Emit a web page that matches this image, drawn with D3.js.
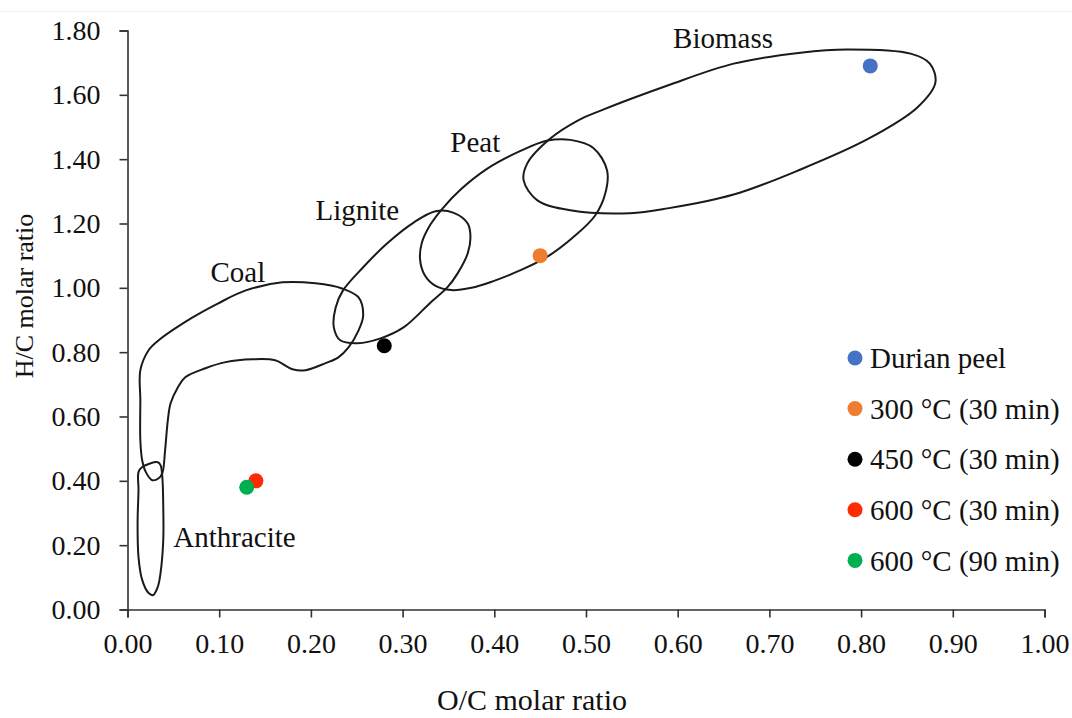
<!DOCTYPE html>
<html>
<head>
<meta charset="utf-8">
<script src="https://cdn.jsdelivr.net/npm/d3@7"></script>
<style>
  html, body { margin: 0; padding: 0; background: #fff; }
  svg { display: block; }
  text { font-family: "Liberation Serif", "Times New Roman", serif; fill: #111; }
</style>
</head>
<body>
<svg id="chart" width="1072" height="718"></svg>
<script>
// Van Krevelen diagram: O/C vs H/C atomic ratios of durian peel and its chars

const xTicks = [0, 0.1, 0.2, 0.3, 0.4, 0.5, 0.6, 0.7, 0.8, 0.9, 1.0];
const yTicks = [0, 0.2, 0.4, 0.6, 0.8, 1.0, 1.2, 1.4, 1.6, 1.8];

// Samples
const sampleNames = ["Durian peel", "300 °C (30 min)", "450 °C (30 min)", "600 °C (30 min)", "600 °C (90 min)"];
const sampleOC = [0.81, 0.45, 0.28, 0.14, 0.13];
const sampleHC = [1.69, 1.10, 0.82, 0.40, 0.38];
const sampleColors = ["#4472C4", "#ED7D31", "#000000", "#FF2A00", "#00B050"];

// Fuel regions, outlines as [O/C, H/C]
const biomassRegion = [
  [0.881, 1.638], [0.875, 1.697], [0.854, 1.728], [0.785, 1.741], [0.734, 1.731],
  [0.661, 1.697], [0.589, 1.629], [0.516, 1.551], [0.491, 1.520], [0.461, 1.464],
  [0.436, 1.387], [0.432, 1.334], [0.447, 1.272], [0.483, 1.241], [0.548, 1.232],
  [0.589, 1.247], [0.661, 1.290], [0.734, 1.368], [0.807, 1.462], [0.861, 1.560]
];
const peatRegion = [
  [0.458, 1.458], [0.483, 1.460], [0.508, 1.435], [0.523, 1.365], [0.521, 1.293],
  [0.510, 1.225], [0.486, 1.157], [0.458, 1.097], [0.428, 1.054], [0.399, 1.021],
  [0.375, 1.000], [0.353, 0.993], [0.336, 1.006], [0.324, 1.040], [0.319, 1.090],
  [0.321, 1.140], [0.330, 1.195], [0.343, 1.245], [0.363, 1.305], [0.392, 1.370],
  [0.428, 1.425]
];
const ligniteRegion = [
  [0.336, 1.238], [0.355, 1.234], [0.371, 1.200], [0.374, 1.157], [0.371, 1.107],
  [0.360, 1.045], [0.349, 1.002], [0.330, 0.953], [0.301, 0.877], [0.276, 0.843],
  [0.251, 0.828], [0.232, 0.837], [0.225, 0.877], [0.227, 0.939], [0.235, 0.992],
  [0.257, 1.064], [0.283, 1.138], [0.312, 1.203]
];
const coalRegion = [
  [0.014, 0.526], [0.014, 0.651], [0.014, 0.744], [0.023, 0.806], [0.034, 0.837],
  [0.071, 0.908], [0.099, 0.952], [0.129, 0.992], [0.169, 1.017], [0.205, 1.014],
  [0.234, 0.998], [0.252, 0.970], [0.257, 0.914], [0.252, 0.868], [0.241, 0.815],
  [0.230, 0.784], [0.216, 0.766], [0.194, 0.744], [0.180, 0.747], [0.161, 0.775],
  [0.136, 0.778], [0.107, 0.769], [0.085, 0.750], [0.063, 0.722], [0.055, 0.691],
  [0.047, 0.641], [0.044, 0.589], [0.041, 0.495], [0.038, 0.424], [0.034, 0.408],
  [0.027, 0.402], [0.020, 0.427], [0.016, 0.464]
];
const anthraciteRegion = [
  [0.016, 0.443], [0.033, 0.458], [0.036, 0.449], [0.038, 0.411], [0.039, 0.318],
  [0.039, 0.216], [0.036, 0.113], [0.033, 0.070], [0.028, 0.045], [0.023, 0.051],
  [0.016, 0.092], [0.012, 0.163], [0.011, 0.269], [0.012, 0.371], [0.012, 0.427]
];

const regionNames = ["Biomass", "Peat", "Lignite", "Coal", "Anthracite"];
const regionShapes = [biomassRegion, peatRegion, ligniteRegion, coalRegion, anthraciteRegion];
const regionLabelOC = [0.595, 0.352, 0.205, 0.0905, 0.050];
const regionLabelHC = [1.747, 1.421, 1.210, 1.017, 0.194];

const svg = d3.select("#chart");

// faint rule along the top edge
svg.append("line")
  .attr("x1", 0).attr("x2", 1072).attr("y1", 11.5).attr("y2", 11.5)
  .attr("stroke", "#efefef").attr("stroke-width", 1);

const x = d3.scaleLinear().domain([0, 1]).range([127.5, 1044.5]);
const y = d3.scaleLinear().domain([0, 1.8]).range([609.5, 30.5]);

// axes
const axisColor = "#333";
const gx = svg.append("g")
  .attr("transform", `translate(0,${y(0)})`)
  .call(d3.axisBottom(x).tickValues(xTicks).tickFormat(d3.format(".2f"))
    .tickSize(8).tickPadding(15.5));
const gy = svg.append("g")
  .attr("transform", `translate(${x(0)},0)`)
  .call(d3.axisLeft(y).tickValues(yTicks).tickFormat(d3.format(".2f"))
    .tickSize(8).tickPadding(19));
[gx, gy].forEach(g => {
  g.selectAll("path, line").attr("stroke", axisColor).attr("stroke-width", 1.6);
  g.selectAll("text").attr("font-size", 28).attr("fill", "#111")
    .attr("font-family", '"Liberation Serif", "Times New Roman", serif');
});

// axis titles
svg.append("text")
  .attr("x", 532).attr("y", 710)
  .attr("text-anchor", "middle")
  .attr("font-size", 30)
  .text("O/C molar ratio");
svg.append("text")
  .attr("transform", "translate(33,296) rotate(-90)")
  .attr("text-anchor", "middle")
  .attr("font-size", 26)
  .text("H/C molar ratio");

// region outlines
const outline = d3.line()
  .x(d => x(d[0]))
  .y(d => y(d[1]))
  .curve(d3.curveCatmullRomClosed.alpha(0.5));

svg.append("g").selectAll("path")
  .data(regionShapes)
  .join("path")
  .attr("d", outline)
  .attr("fill", "none")
  .attr("stroke", "#1a1a1a")
  .attr("stroke-width", 2);

// region labels
svg.append("g").selectAll("text")
  .data(regionNames)
  .join("text")
  .attr("x", (d, i) => x(regionLabelOC[i]))
  .attr("y", (d, i) => y(regionLabelHC[i]))
  .attr("font-size", 29)
  .text(d => d);

// sample points
svg.append("g").selectAll("circle")
  .data(sampleNames)
  .join("circle")
  .attr("cx", (d, i) => x(sampleOC[i]))
  .attr("cy", (d, i) => y(sampleHC[i]))
  .attr("r", 7.5)
  .attr("fill", (d, i) => sampleColors[i]);

// legend
const legend = svg.append("g").attr("transform", "translate(855,358)");
const rows = legend.selectAll("g")
  .data(sampleNames)
  .join("g")
  .attr("transform", (d, i) => `translate(0,${i * 50.6})`);
rows.append("circle")
  .attr("r", 7.5)
  .attr("fill", (d, i) => sampleColors[i]);
rows.append("text")
  .attr("x", 15)
  .attr("dy", "0.35em")
  .attr("font-size", 29)
  .text(d => d);
</script>
</body>
</html>
